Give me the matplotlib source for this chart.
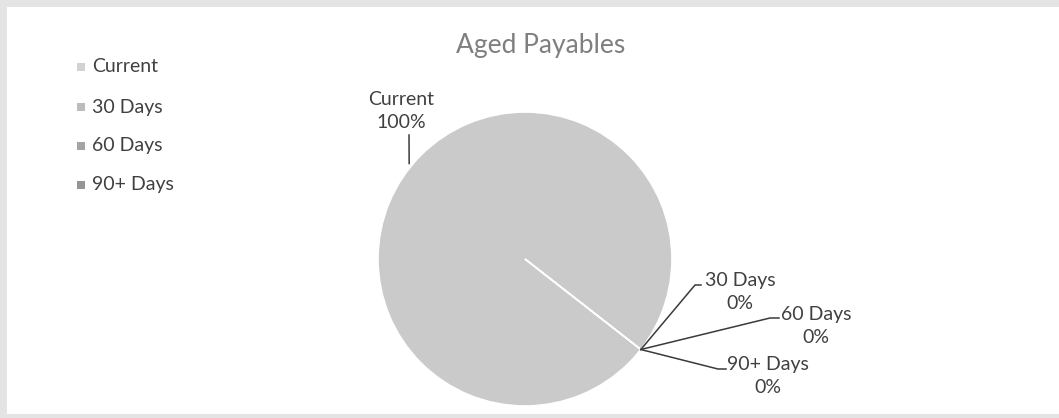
import matplotlib
matplotlib.use("Agg")
import matplotlib.pyplot as plt
from matplotlib.patches import Rectangle
from matplotlib.lines import Line2D
import numpy as np

categories = ["Current", "30 Days", "60 Days", "90+ Days"]
values = [100, 0, 0, 0]
colors = ["#cacaca", "#b9b9b9", "#a3a3a3", "#939393"]
legend_colors = ["#d2d2d2", "#bcbcbc", "#a4a4a4", "#959595"]
title = "Aged Payables"

W, H = 1059, 418
plt.rcParams['font.family'] = ['Lato', 'DejaVu Sans']
fig = plt.figure(figsize=(W / 100, H / 100), dpi=100, facecolor="#e4e4e4")

def fx(x):
    return x / W

def fy(y):
    return 1 - y / H

# white chart area
fig.add_artist(Rectangle((fx(7), fy(414)), fx(W), (414 - 7) / H,
                         transform=fig.transFigure, facecolor="white",
                         edgecolor="none", zorder=0))

cx, cy, r = 525, 259, 147
ax = fig.add_axes([fx(cx - r), fy(cy + r), 2 * r / W, 2 * r / H])

wedges, _ = ax.pie(values, colors=colors, startangle=-38, counterclock=False,
                   radius=1, wedgeprops=dict(edgecolor="white", linewidth=1.2))
ax.set_xlim(-1, 1)
ax.set_ylim(-1, 1)
ax.axis("off")

fig.text(fx(541), fy(45), title, ha="center", va="center", fontsize=19,
         color="#7f7f7f")

# legend
leg_y = [67, 107, 146, 185]
for name, col, y in zip(categories, legend_colors, leg_y):
    fig.add_artist(Rectangle((fx(77), fy(y + 4)), 8 / W, 8 / H,
                             transform=fig.transFigure, facecolor=col,
                             edgecolor="none"))
    fig.text(fx(92), fy(y), name, ha="left", va="center", fontsize=14,
             color="#404040")

total = sum(values)
def pie_point(theta_deg):
    t = np.deg2rad(theta_deg)
    return cx + r * np.cos(t), cy - r * np.sin(t)

# label positions (pixels): text center, line elbow, line end
label_layout = {
    "Current": dict(text=(401, 111), elbow=None, end=(409, 135)),
    "30 Days": dict(text=(740, 292), elbow=(695, 285), end=(701, 285)),
    "60 Days": dict(text=(816, 326), elbow=(770, 318), end=(779, 318)),
    "90+ Days": dict(text=(768, 376), elbow=(718, 369), end=(726, 369)),
}

for w, name, v in zip(wedges, categories, values):
    mid = (w.theta1 + w.theta2) / 2
    px, py = pie_point(mid)
    lay = label_layout[name]
    tx, ty = lay["text"]
    fig.text(fx(tx), fy(ty), f"{name}\n{v / total * 100:.0f}%", ha="center",
             va="center", fontsize=14, color="#404040", linespacing=1.4)
    if lay["elbow"] is None:
        xs = [px, lay["end"][0]]
        ys = [py - 5, lay["end"][1]]
    else:
        xs = [px, lay["elbow"][0], lay["end"][0]]
        ys = [py, lay["elbow"][1], lay["end"][1]]
    fig.add_artist(Line2D([fx(x) for x in xs], [fy(y) for y in ys],
                          transform=fig.transFigure, color="#3a3a3a",
                          linewidth=1.1))

fig.savefig("out.png", dpi=100, facecolor=fig.get_facecolor())
